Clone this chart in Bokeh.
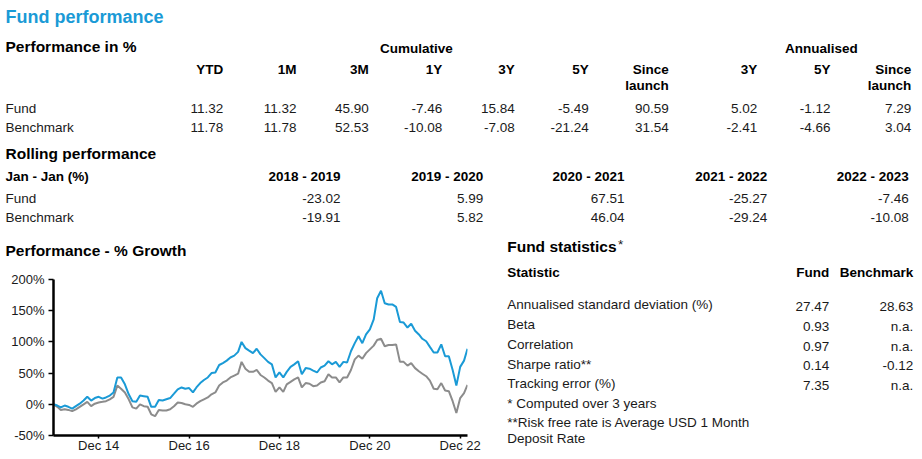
import pandas as pd
from bokeh.plotting import figure
from bokeh.layouts import column, row
from bokeh.models import (Range1d, FixedTicker, DatetimeTickFormatter, ColumnDataSource,
                          PrintfTickFormatter)
from bokeh.core.properties import value
from bokeh.embed import file_html
from bokeh.resources import INLINE

# ---------------- data ----------------
perf_groups = ["Cumulative", "Annualised"]
perf_headers = ["YTD", "1M", "3M", "1Y", "3Y", "5Y", "Since launch", "3Y", "5Y", "Since launch"]
fund_perf = [11.32, 11.32, 45.90, -7.46, 15.84, -5.49, 90.59, 5.02, -1.12, 7.29]
bench_perf = [11.78, 11.78, 52.53, -10.08, -7.08, -21.24, 31.54, -2.41, -4.66, 3.04]
row_labels = ["Fund", "Benchmark"]

rolling_periods = ["2018 - 2019", "2019 - 2020", "2020 - 2021", "2021 - 2022", "2022 - 2023"]
fund_rolling = [-23.02, 5.99, 67.51, -25.27, -7.46]
bench_rolling = [-19.91, 5.82, 46.04, -29.24, -10.08]

stat_names = ["Annualised standard deviation (%)", "Beta", "Correlation", "Sharpe ratio**", "Tracking error (%)"]
stat_fund = ["27.47", "0.93", "0.97", "0.14", "7.35"]
stat_bench = ["28.63", "n.a.", "n.a.", "-0.12", "n.a."]
footnotes = ["* Computed over 3 years", "**Risk free rate is Average USD 1 Month", "Deposit Rate"]

growth_dates = pd.date_range("2013-12-31", "2023-02-28", freq="ME")
fund_growth = [0, -2, -5, -2, -4, -7, -3, 1, 6, 12, 6, 10,
               12, 9, 11, 14, 19, 43, 43, 32, 16, 5, 4, 14,
               13, 12, -4, -4, 7, 6, 8, 10, 17, 24, 27, 25,
               26, 19, 27, 34, 39, 43, 50, 51, 63, 66, 70, 75,
               78, 84, 100, 90, 86, 82, 89, 80, 74, 68, 64, 43,
               51, 43, 52, 60, 64, 69, 48, 58, 57, 54, 51, 59,
               62, 69, 64, 68, 60, 68, 67, 85, 98, 109, 98, 112,
               120, 136, 170, 182, 162, 160, 160, 156, 132, 131, 123, 129,
               118, 112, 105, 101, 92, 83, 83, 96, 77, 77, 55, 30,
               60, 70, 89]
bench_growth = [0, -4, -9, -8, -9, -11, -8, -4, 0, 4, -3, 1,
                3, 4, 5, 8, 12, 30, 25, 19, 8, -5, -7, 0,
                -3, -4, -16, -19, -9, -10, -10, -8, -3, 3, 2, 0,
                -1, -4, 1, 5, 8, 11, 16, 19, 30, 35, 38, 43,
                46, 49, 68, 57, 52, 52, 55, 47, 43, 38, 34, 20,
                27, 20, 32, 36, 40, 43, 27, 34, 33, 29, 30, 35,
                37, 48, 43, 43, 35, 43, 43, 55, 72, 78, 73, 82,
                88, 94, 103, 105, 93, 95, 95, 96, 68, 68, 62, 66,
                58, 53, 49, 45, 38, 25, 24, 34, 22, 21, 5, -14,
                10, 18, 31]
xtick_dates = ["2014-12-31", "2016-12-31", "2018-12-31", "2020-12-31", "2022-12-31"]
ytick_values = [-50, 0, 50, 100, 150, 200]

# ---------------- style / layout ----------------
FONT = "Liberation Sans"
BLUE = "#1a9ad6"
GREY = "#8c8c8c"
INK = "#1a1a1a"
HEAD = "#000000"
W, H = 922, 459
SPLIT_Y = 262                          # top block / bottom row boundary
SPLIT_X = 490                          # chart / statistics boundary
FL, FR, FT, FB = 53, 467, 279, 435     # chart frame in page pixels


def txt(p, xs, ys, texts, align="left", size="13.5px", bold=False, color=INK):
    s = ColumnDataSource(dict(x=list(xs), y=list(ys), text=list(texts)))
    p.text(x="x", y="y", text="text", source=s, text_align=align,
           text_baseline="middle", text_font=value(FONT),
           text_font_size=value(size),
           text_font_style="bold" if bold else "normal", text_color=color)


def canvas(x0, x1, ytop, ybot):
    p = figure(width=x1 - x0, height=ybot - ytop, x_range=Range1d(x0, x1),
               y_range=Range1d(ybot, ytop), toolbar_location=None, output_backend="svg",
               min_border=0, x_axis_location=None, y_axis_location=None,
               outline_line_color=None)
    p.frame_align = False
    p.grid.visible = False
    return p


def fmt(v):
    return f"{v:.2f}"


# ---------------- top block ----------------
pA = canvas(0, W, 0, SPLIT_Y)
txt(pA, [5], [16], ["Fund performance"], size="18px", bold=True, color=BLUE)
txt(pA, [5], [46], ["Performance in %"], size="15.5px", bold=True, color=HEAD)
txt(pA, [452.3, 857.3], [48.3, 48.3], perf_groups, align="right", bold=True, color=HEAD)

perf_right = [222.7, 296, 368.3, 441.7, 514.3, 588.3, 668.3, 756.7, 830, 910.7]
l1 = [h.split(" ")[0] for h in perf_headers]
l2 = [" ".join(h.split(" ")[1:]) for h in perf_headers]
txt(pA, perf_right, [68.5] * len(l1), l1, align="right", bold=True, color=HEAD)
txt(pA, perf_right, [84.7] * len(l2), l2, align="right", bold=True, color=HEAD)
row_y = [108.3, 126.7]
txt(pA, [5, 5], row_y, row_labels)
txt(pA, perf_right, [row_y[0]] * len(fund_perf), [fmt(v) for v in fund_perf], align="right")
txt(pA, perf_right, [row_y[1]] * len(bench_perf), [fmt(v) for v in bench_perf], align="right")

txt(pA, [5], [152.7], ["Rolling performance"], size="15.5px", bold=True, color=HEAD)
roll_right = [340, 482.7, 624, 766.7, 908.3]
txt(pA, [5], [176], ["Jan - Jan (%)"], bold=True, color=HEAD)
txt(pA, roll_right, [176] * len(rolling_periods), rolling_periods, align="right", bold=True, color=HEAD)
rrow_y = [198.3, 216.7]
txt(pA, [5, 5], rrow_y, row_labels)
txt(pA, roll_right, [rrow_y[0]] * len(fund_rolling), [fmt(v) for v in fund_rolling], align="right")
txt(pA, roll_right, [rrow_y[1]] * len(bench_rolling), [fmt(v) for v in bench_rolling], align="right")

txt(pA, [5], [250], ["Performance - % Growth"], size="15.5px", bold=True, color=HEAD)
txt(pA, [506.7], [246], ["Fund statistics"], size="15.5px", bold=True, color=HEAD)
txt(pA, [617.5], [244], ["*"], size="13.5px", color=INK)

# ---------------- growth chart ----------------
src = ColumnDataSource(dict(date=growth_dates, fund=fund_growth, bench=bench_growth))
pB = figure(width=SPLIT_X, height=H - SPLIT_Y, x_axis_type="datetime",
            x_range=Range1d(growth_dates[0].to_pydatetime(), growth_dates[-1].to_pydatetime()),
            y_range=Range1d(-50, 200), toolbar_location=None, output_backend="svg",
            min_border_left=FL, min_border_right=SPLIT_X - FR,
            min_border_top=FT - SPLIT_Y, min_border_bottom=H - FB,
            outline_line_color=None)
pB.frame_align = False
pB.grid.visible = False
pB.line("date", "bench", source=src, line_color=GREY, line_width=2)
pB.line("date", "fund", source=src, line_color=BLUE, line_width=2)

pB.xaxis.ticker = FixedTicker(ticks=[pd.Timestamp(d).value / 1e6 for d in xtick_dates])
pB.xaxis.formatter = DatetimeTickFormatter(days="%b %y", months="%b %y", years="%b %y")
pB.yaxis.ticker = FixedTicker(ticks=ytick_values)
pB.yaxis.formatter = PrintfTickFormatter(format="%d%%")
for ax in (pB.xaxis, pB.yaxis):
    ax.axis_line_width = 2.5
    ax.axis_line_color = "black"
    ax.major_tick_line_color = "black"
    ax.major_tick_line_width = 1.5
    ax.major_tick_in = 0
    ax.minor_tick_line_color = None
    ax.major_label_text_font = FONT
    ax.major_label_text_font_size = "13px"
    ax.major_label_text_color = INK
pB.yaxis.major_tick_out = 5
pB.yaxis.major_label_standoff = 4
pB.xaxis.major_tick_out = 3
pB.xaxis.major_label_standoff = -1

# ---------------- statistics ----------------
pC = canvas(SPLIT_X, W, SPLIT_Y, H)
txt(pC, [506.7], [272.3], ["Statistic"], bold=True, color=HEAD)
txt(pC, [828.8, 912.7], [272.3, 272.3], ["Fund", "Benchmark"], align="right", bold=True, color=HEAD)
stat_y = [304, 324.3, 344.3, 363.8, 383.3]
txt(pC, [506.7] * len(stat_names), stat_y, stat_names)
txt(pC, [828.8] * len(stat_fund), [y + 1.5 for y in stat_y], stat_fund, align="right")
txt(pC, [912.7] * len(stat_bench), [y + 1.5 for y in stat_y], stat_bench, align="right")
txt(pC, [506.7] * len(footnotes), [402.7, 421.7, 437.7], footnotes)

layout = column(pA, row(pB, pC))
open("out.html", "w").write(file_html(layout, INLINE))
